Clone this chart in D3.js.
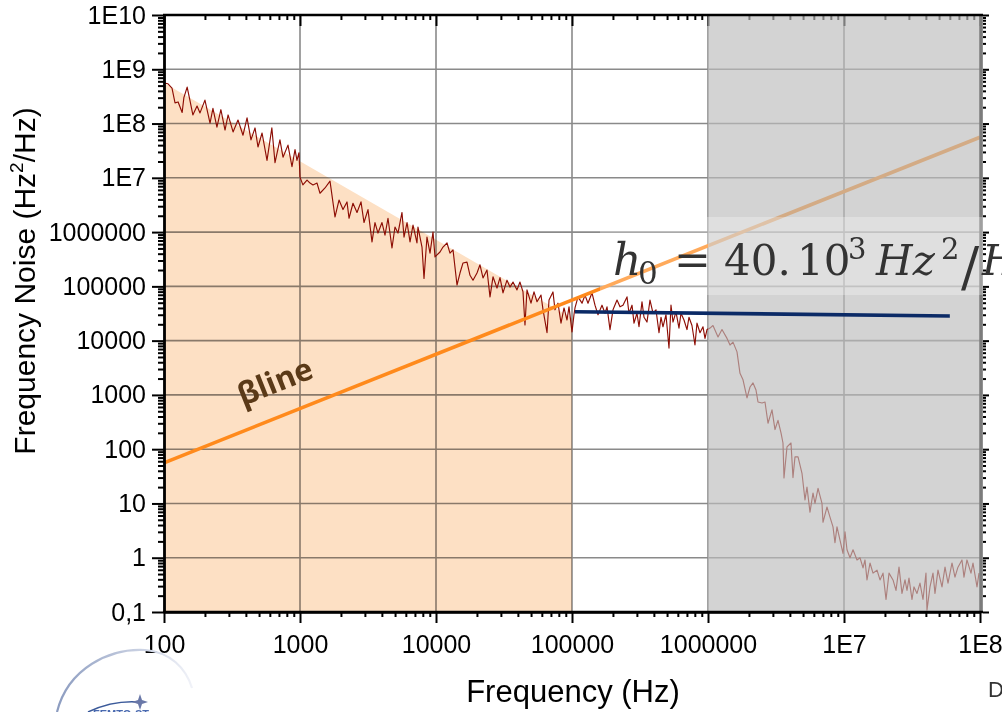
<!DOCTYPE html>
<html><head><meta charset="utf-8">
<script src="https://cdn.jsdelivr.net/npm/d3@7/dist/d3.min.js"></script>
<style>body{margin:0;background:#fff;overflow:hidden}svg{display:block}</style>
</head><body>
<svg id="c" width="1002" height="712"></svg>
<script>
// ---------- data ----------
const xTickValues = [100, 1e3, 1e4, 1e5, 1e6, 1e7, 1e8];
const xTickLabels = ["100", "1000", "10000", "100000", "1000000", "1E7", "1E8"];
const yTickValues = [0.1, 1, 10, 100, 1e3, 1e4, 1e5, 1e6, 1e7, 1e8, 1e9, 1e10];
const yTickLabels = ["0,1", "1", "10", "100", "1000", "10000", "100000", "1000000", "1E7", "1E8", "1E9", "1E10"];
const xGridValues = [1e3, 1e4, 1e5, 1e6, 1e7];
const yGridValues = [1, 10, 100, 1e3, 1e4, 1e5, 1e6, 1e7, 1e8, 1e9];

// measured frequency-noise spectrum [frequency Hz, Hz^2/Hz]
const noiseSpectrum = [
[100,5.6e8],[107,5.4e8],[114.5,4.5e8],[120.5,2.4e8],[127,2.5e8],[136,1.6e8],[140,3.0e8],[148,4.7e8],[155,2.7e8],[163,1.44e8],
[175,2.1e8],[184,1.57e8],[200,2.7e8],[218,1.02e8],[229,1.9e8],[245,8.6e7],[262,1.8e8],[281,7.6e7],[296,1.44e8],[322,7.0e7],
[350,1.16e8],[381,6.1e7],[408,1.27e8],[436,5.0e7],[467,8.3e7],[491,3.7e7],[526,6.7e7],[572,2.1e7],[621,8.3e7],[655,1.9e7],
[712,5.0e7],[750,2.4e7],[816,4.0e7],[873,1.6e7],[919,3.3e7],[950,2.1e7],[983,2.9e7],[1000,1.03e7],[1050,7.4e6],[1126,9.1e6],
[1185,8.0e6],[1246,7.4e6],[1334,8.0e6],[1403,5.2e6],[1527,6.5e6],[1662,8.7e6],[1809,1.9e6],[1936,3.9e6],[2071,2.6e6],[2216,3.6e6],
[2293,1.8e6],[2453,3.4e6],[2625,2.3e6],[2809,3.6e6],[2955,1.5e6],[3162,2.6e6],[3384,6.6e5],[3559,1.5e6],[3745,9.6e5],[4007,1.5e6],
[4216,8.8e5],[4436,1.8e6],[4746,5.1e5],[4994,1.24e6],[5255,9.6e5],[5622,2.3e6],[5818,8.1e5],[6124,1.5e6],[6443,6.6e5],[6776,1.35e6],
[7245,6.3e5],[7370,1.24e6],[7889,5.3e5],[8163,1.4e5],[8583,8.1e5],[9035,4.1e5],[9505,1.0e6],[9832,3.5e5],
[10700,4.3e5],[11260,5.3e5],[12050,6.3e5],[12670,4.1e5],[13340,4.7e5],[14270,1.06e5],[15010,1.76e5],[15800,2.7e5],[16900,2.8e5],[17780,1.6e5],
[18710,1.3e5],[20020,1.76e5],[21060,2.5e5],[22160,1.43e5],[23710,2.0e5],[24950,6.4e4],[26250,1.5e5],[28090,9.3e4],[29550,1.45e5],[31090,7.6e4],
[33270,1.3e5],[35000,9.7e4],[36830,1.2e5],[39400,8.6e4],[41450,1.2e5],[43620,7.9e4],[45110,1.94e4],[46670,8.6e4],[49940,4.9e4],[52550,7.9e4],
[55300,5.2e4],[59160,6.9e4],[61240,3.7e4],[65520,1.4e4],[67760,5.6e4],[72450,7.9e4],[74970,3.7e4],[78890,4.9e4],[83000,2.1e4],[87350,4.0e4],
[91880,2.4e4],[95050,4.2e4],[100000,1.45e4],[103400,3.0e4],
[105200,4.0e4],[110700,6.4e4],[118500,4.9e4],[124600,6.9e4],[131100,4.9e4],[140300,7.6e4],[147600,4.5e4],[155300,3.0e4],[166200,4.5e4],[174900,3.2e4],
[180900,4.2e4],[190300,1.6e4],[200200,3.7e4],[214300,5.6e4],[225400,4.2e4],[237100,4.5e4],[253800,6.4e4],[262500,3.2e4],[276200,4.5e4],[285700,2.1e4],
[300500,3.2e4],[310900,1.8e4],[327100,5.2e4],[338400,2.7e4],[355900,2.2e4],[374500,5.6e4],[394000,3.2e4],[414500,3.7e4],[436200,1.4e4],[451100,2.7e4],
[466600,1.8e4],[491000,3.0e4],[516600,7.3e3],[534300,4.5e4],[552700,2.2e4],[581500,3.4e4],[611800,1.7e4],[632900,3.2e4],[665900,2.4e4],[700700,1.6e4],
[724500,2.7e4],[762300,1.9e4],[802000,8.3e3],[829900,2.1e4],[873200,1.4e4],[918700,1.8e4],[950500,1.1e4],[983300,1.6e4],
[1.034e6,1.7e4],[1.088e6,1.9e4],[1.185e6,1.17e4],[1.267e6,1.6e4],[1.38e6,1.1e4],[1.452e6,8.3e3],[1.527e6,9.4e3],[1.634e6,6.2e3],[1.719e6,2.5e3],[1.809e6,1.9e3],
[1.936e6,880],[2.037e6,1400],[2.143e6,1660],[2.254e6,1230],[2.332e6,740],[2.495e6,710],[2.625e6,740],[2.762e6,300],[2.955e6,530],[3.109e6,230],
[3.271e6,340],[3.442e6,200],[3.559e6,130],[3.62e6,29.5],[3.809e6,110],[4.075e6,130],[4.216e6,30],[4.362e6,72],[4.592e6,72],[4.91e6,36],
[5.166e6,11.6],[5.343e6,20],[5.622e6,6.9],[5.916e6,15.6],[6.119e6,10],[6.443e6,19],[6.89e6,10],[7.007e6,4.5],[7.497e6,8.6],[7.889e6,5.6],
[8.30e6,3.7],[8.583e6,1.9],[8.881e6,3.7],[9.345e6,2.1],[9.832e6,1.2],[1.017e7,3.0],[1.052e7,1.4],[1.107e7,1.0],[1.165e7,1.4],[1.246e7,0.91],
[1.311e7,1.0],[1.38e7,0.65],[1.427e7,0.91],[1.476e7,0.39],[1.553e7,0.80],[1.634e7,0.52],[1.749e7,0.59],[1.84e7,0.39],[1.936e7,0.52],[2.037e7,0.17],
[2.143e7,0.52],[2.293e7,0.39],[2.412e7,0.25],[2.538e7,0.67],[2.669e7,0.22],[2.809e7,0.39],[2.905e7,0.25],[3.005e7,0.42],[3.162e7,0.17],[3.271e7,0.29],
[3.442e7,0.22],[3.62e7,0.34],[3.809e7,0.17],[4.007e7,0.52],[4.075e7,0.108],[4.289e7,0.29],[4.512e7,0.52],[4.667e7,0.22],[4.91e7,0.59],[5.255e7,0.29],
[5.53e7,0.67],[5.817e7,0.34],[6.223e7,0.80],[6.546e7,0.44],[6.886e7,0.67],[7.37e7,0.91],[7.624e7,0.44],[8.02e7,0.91],[8.583e7,0.52],[8.881e7,0.80],
[9.505e7,0.29],[9.832e7,0.52]
];
// beta-separation line endpoints
const betaLineFreq = [100, 1e8];
const betaLineValue = [56, 5.6e7];
// white frequency noise level h0
const h0LineFreq = [1.05e5, 6.0e7];
const h0LineValue = [3.4e4, 2.85e4];
// orange shaded area (low-frequency zone) top edge
const orangeZoneFreq = [100, 1e5];
const orangeZoneTop = [5.6e8, 2.6e4];
// gray shaded zone
const grayZoneFreq = [1e6, 1e8];

// ---------- drawing ----------
const svg = d3.select("#c");
const x = d3.scaleLog().domain([100, 1e8]).range([164, 980]);
const y = d3.scaleLog().domain([0.1, 1e10]).range([612, 15]);
const isMajor = d => Math.abs(Math.log10(d) - Math.round(Math.log10(d))) < 1e-9;
const minorX = x.ticks(20).filter(d => !isMajor(d));
const minorY = y.ticks(20).filter(d => !isMajor(d));
const FONT = "'Liberation Sans', Arial, sans-serif";

// grid
const grid = svg.append("g").attr("stroke", "#8a8a8a").attr("stroke-width", 1.6);
grid.selectAll(".gx").data(xGridValues).join("line")
  .attr("x1", d => x(d)).attr("x2", d => x(d)).attr("y1", 15).attr("y2", 612);
grid.selectAll(".gy").data(yGridValues).join("line")
  .attr("y1", d => y(d)).attr("y2", d => y(d)).attr("x1", 164).attr("x2", 980);

// orange zone
const zone = [[orangeZoneFreq[0], orangeZoneTop[0]], [orangeZoneFreq[1], orangeZoneTop[1]],
              [orangeZoneFreq[1], 0.1], [orangeZoneFreq[0], 0.1]];
svg.append("path")
  .attr("d", "M" + zone.map(p => [x(p[0]), y(p[1])].join(",")).join("L") + "Z")
  .attr("fill", "#fde0c4").style("mix-blend-mode", "multiply");

// trace
const line = d3.line().x(d => x(d[0])).y(d => y(d[1]));
svg.append("path").datum(noiseSpectrum).attr("d", line)
  .attr("fill", "none").attr("stroke", "#8d0d04").attr("stroke-width", 1.15).attr("stroke-linejoin", "round");

// beta line
svg.append("path").datum(d3.zip(betaLineFreq, betaLineValue)).attr("d", line)
  .attr("fill", "none").attr("stroke", "#ff8a1c").attr("stroke-width", 3.6);

// top axis ticks (inside) and right axis line - drawn before gray overlay
const topMinor = svg.append("g").attr("transform", "translate(0,15)")
  .call(d3.axisBottom(x).tickValues(minorX).tickSize(5).tickSizeOuter(0).tickFormat(""));
const topMajor = svg.append("g").attr("transform", "translate(0,15)")
  .call(d3.axisBottom(x).tickValues(xTickValues).tickSize(11).tickSizeOuter(0).tickFormat(""));
[topMinor, topMajor].forEach(g => { g.select(".domain").remove(); g.selectAll("line").attr("stroke", "#000").attr("stroke-width", 2); });
svg.append("line").attr("x1", 981).attr("x2", 981).attr("y1", 15).attr("y2", 612)
  .attr("stroke", "#000").attr("stroke-width", 3.5);

// gray overlay
svg.append("rect")
  .attr("x", x(grayZoneFreq[0])).attr("y", 16)
  .attr("width", x(grayZoneFreq[1]) - x(grayZoneFreq[0]) + 3).attr("height", 595)
  .attr("fill", "#bcbcbc").attr("opacity", 0.66);

// equation text box background
svg.append("rect").attr("x", 600).attr("y", 217).attr("width", 402).attr("height", 78)
  .attr("fill", "#fff").attr("opacity", 0.28);

// h0 line
svg.append("path").datum(d3.zip(h0LineFreq, h0LineValue)).attr("d", line)
  .attr("fill", "none").attr("stroke", "#0b2a66").attr("stroke-width", 3.6);

// equation (single text element with positioned spans)
const eqParts = [
  {t: "h", x: 613, y: 275, s: 44, i: true},
  {t: "0", x: 638, y: 284, s: 31, i: false},
  {t: "=", x: 674, y: 275, s: 44, i: false},
  {t: "40.", x: 724, y: 275, s: 42, i: false},
  {t: "10", x: 797, y: 275, s: 42, i: false},
  {t: "3", x: 848, y: 259, s: 29, i: false},
  {t: "Hz", x: 876, y: 275, s: 42, i: true},
  {t: "2", x: 941, y: 259, s: 29, i: false},
  {t: "/", x: 961, y: 286, s: 54, i: false},
  {t: "H", x: 982, y: 275, s: 42, i: true}
];
svg.append("text").attr("fill", "#333").attr("font-family", "'DejaVu Serif', serif")
  .selectAll("tspan").data(eqParts).join("tspan")
  .attr("x", d => d.x).attr("y", d => d.y).attr("font-size", d => d.s)
  .attr("font-style", d => d.i ? "italic" : "normal").text(d => d.t);

// beta line label
svg.append("text").attr("transform", "translate(276,384) rotate(-21.7)")
  .attr("text-anchor", "middle").attr("dominant-baseline", "middle")
  .attr("font-family", "'Open Sans', sans-serif").attr("font-weight", "bold")
  .attr("font-size", 31).attr("fill", "#5b3a18").text("βline");

// frame line (top)
svg.append("line").attr("x1", 163).attr("x2", 983).attr("y1", 15).attr("y2", 15)
  .attr("stroke", "#000").attr("stroke-width", 2.4);

// right axis ticks (outside)
const rMinor = svg.append("g").attr("transform", "translate(983,0)")
  .call(d3.axisRight(y).tickValues(minorY).tickSize(3).tickSizeOuter(0).tickFormat(""));
const rMajor = svg.append("g").attr("transform", "translate(983,0)")
  .call(d3.axisRight(y).tickValues(yTickValues).tickSize(6).tickSizeOuter(0).tickFormat(""));
[rMinor, rMajor].forEach(g => { g.select(".domain").remove(); g.selectAll("line").attr("stroke", "#000").attr("stroke-width", 2); });

// left axis
const lMinor = svg.append("g").attr("transform", "translate(164,0)")
  .call(d3.axisLeft(y).tickValues(minorY).tickSize(6).tickSizeOuter(0).tickFormat(""));
const lMajor = svg.append("g").attr("transform", "translate(164,0)")
  .call(d3.axisLeft(y).tickValues(yTickValues).tickSize(12).tickSizeOuter(0).tickPadding(6)
    .tickFormat((d, i) => yTickLabels[i]));
// bottom axis
const bMinor = svg.append("g").attr("transform", "translate(0,612)")
  .call(d3.axisBottom(x).tickValues(minorX).tickSize(5).tickSizeOuter(0).tickFormat(""));
const bMajor = svg.append("g").attr("transform", "translate(0,612)")
  .call(d3.axisBottom(x).tickValues(xTickValues).tickSize(11).tickSizeOuter(0).tickPadding(12)
    .tickFormat((d, i) => xTickLabels[i]));
[lMinor, lMajor, bMinor, bMajor].forEach(g => {
  g.selectAll("line").attr("stroke", "#000").attr("stroke-width", 2);
  g.select(".domain").attr("stroke", "#000").attr("stroke-width", 2.4);
  g.selectAll("text").attr("font-family", FONT).attr("font-size", 25).attr("fill", "#000");
});
bMinor.select(".domain").attr("d", "M163,0H983");

// axis titles
svg.append("text").attr("transform", "translate(35,281) rotate(-90)")
  .attr("text-anchor", "middle").attr("font-family", FONT).attr("font-size", 30).attr("fill", "#000")
  .call(t => {
    t.append("tspan").text("Frequency Noise (Hz");
    t.append("tspan").attr("font-size", 19).attr("dy", -12).text("2");
    t.append("tspan").attr("dy", 12).text("/Hz)");
  });
svg.append("text").attr("x", 573).attr("y", 702).attr("text-anchor", "middle")
  .attr("font-family", FONT).attr("font-size", 31).attr("fill", "#000").text("Frequency (Hz)");

// partial caption at bottom right
svg.append("text").attr("x", 988).attr("y", 697).attr("font-family", FONT)
  .attr("font-size", 22).attr("fill", "#333").text("D");

// logo fragment bottom-left
const defs = svg.append("defs");
const lg = defs.append("linearGradient").attr("id", "lg").attr("x1", "0").attr("x2", "1");
lg.append("stop").attr("offset", "0").attr("stop-color", "#8c9cc0");
lg.append("stop").attr("offset", "1").attr("stop-color", "#f0f2f8");
svg.append("path").attr("d", "M57,712 C68,668 110,648 145,650 C170,652 186,668 192,688")
  .attr("fill", "none").attr("stroke", "url(#lg)").attr("stroke-width", 2.2);
svg.append("path").attr("d", "M88,712 C105,704 122,701 138,702")
  .attr("fill", "none").attr("stroke", "#3b5a9a").attr("stroke-width", 1.5);
svg.append("path").attr("d", "M140,694 L142,700 L148,702 L142,704 L140,710 L138,704 L132,702 L138,700 Z")
  .attr("fill", "#6a78a8");
svg.append("text").attr("x", 93).attr("y", 718).attr("font-family", FONT).attr("font-size", 11)
  .attr("font-weight", "bold").attr("fill", "#4a6ab0").text("FEMTO-ST");
</script>
</body></html>
